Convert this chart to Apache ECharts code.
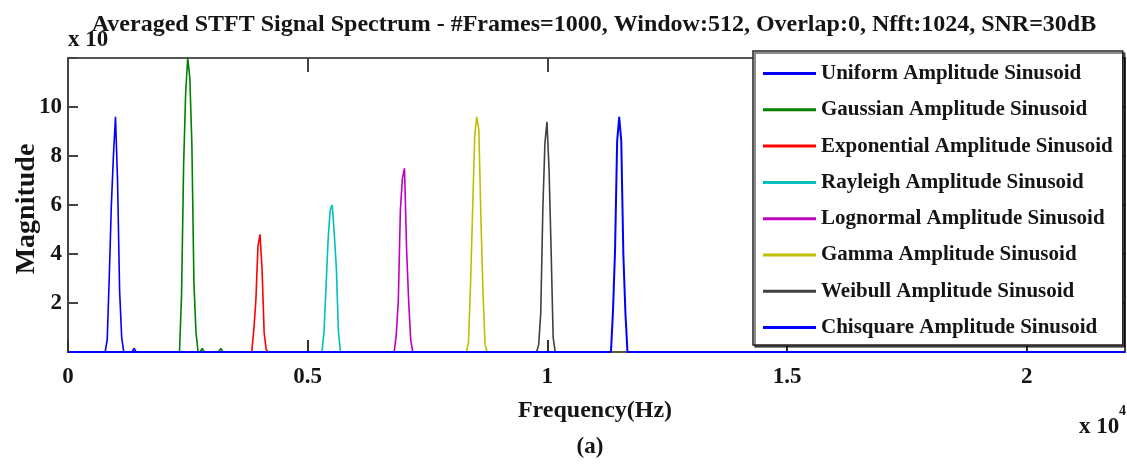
<!DOCTYPE html>
<html>
<head>
<meta charset="utf-8">
<script src="https://cdn.jsdelivr.net/npm/echarts@6/dist/echarts.min.js"></script>
<style>
html,body{margin:0;padding:0;background:#fff;}
#chart{width:1127px;height:464px;}
</style>
</head>
<body>
<div id="chart"></div>
<script>
// ---- data ----
const fs = 44100, nfft = 1024;           // FFT grid: bin k -> k*fs/nfft Hz
const seriesNames = ['Uniform Amplitude Sinusoid','Gaussian Amplitude Sinusoid','Exponential Amplitude Sinusoid','Rayleigh Amplitude Sinusoid','Lognormal Amplitude Sinusoid','Gamma Amplitude Sinusoid','Weibull Amplitude Sinusoid','Chisquare Amplitude Sinusoid'];
const seriesColors = ['#0000ff','#008000','#ff0000','#00bfbf','#bf00bf','#bfbf00','#404040','#0000ff'];
// first bin index of each peak and the magnitudes of the following bins
const uniformStart = 19;     const uniformVals = [0.5, 3.1, 6.0, 8.0, 9.6, 7.0, 2.5, 0.6];
const gaussianStart = 55;    const gaussianVals = [2.3, 7.6, 10.6, 12.0, 11.2, 8.5, 2.8, 0.8];
const exponentialStart = 90; const exponentialVals = [0.9, 2.1, 4.3, 4.8, 3.4, 0.8, 0.1];
const rayleighStart = 124;   const rayleighVals = [0.8, 2.7, 4.6, 5.8, 6.0, 4.8, 3.4, 0.8];
const lognormalStart = 159;  const lognormalVals = [0.7, 2.1, 5.8, 7.1, 7.5, 4.2, 2.1, 0.5];
const gammaStart = 194;      const gammaVals = [0.4, 2.8, 5.8, 8.8, 9.6, 9.1, 5.5, 2.5, 0.3];
const weibullStart = 228;    const weibullVals = [0.3, 1.6, 5.8, 8.5, 9.4, 7.5, 4.2, 0.6];
const chisquareStart = 264;  const chisquareVals = [1.7, 4.2, 8.6, 9.6, 8.6, 4.0, 1.6];
// small spurious bins on the floor: [bin, magnitude]
const uniformBlips = [[32, 0.15]];
const gaussianBlips = [[65, 0.15], [74, 0.15]];
const xTickLabels = ['0','0.5','1','1.5','2'];
const yTickLabels = ['2','4','6','8','10'];

const starts = [uniformStart,gaussianStart,exponentialStart,rayleighStart,lognormalStart,gammaStart,weibullStart,chisquareStart];
const vals = [uniformVals,gaussianVals,exponentialVals,rayleighVals,lognormalVals,gammaVals,weibullVals,chisquareVals];
const blips = [uniformBlips,gaussianBlips,[],[],[],[],[],[]];
const binHz = fs / nfft;
const fMax = fs / 2;

function buildData(start, v, bl) {
  const all = [];
  bl.forEach(b => all.push([b[0], b[1]]));
  v.forEach((m, i) => all.push([start + i, m]));
  all.sort((a,b)=>a[0]-b[0]);
  const pts = [[0, 0]];
  let prev = null;
  all.forEach(([k, m]) => {
    if (prev === null) {
      pts.push([(k - 1) * binHz, 0]);
    } else if (k - 1 > prev) {
      pts.push([(prev + 1) * binHz, 0]);
      if (k - 1 > prev + 1) pts.push([(k - 1) * binHz, 0]);
    }
    pts.push([k * binHz, m]);
    prev = k;
  });
  pts.push([(prev + 1) * binHz, 0]);
  pts.push([fMax, 0]);
  return pts;
}

const series = seriesNames.map((n, i) => ({
  name: n, type: 'line', symbol: 'none', clip: false, animation: false,
  data: buildData(starts[i], vals[i], blips[i]),
  lineStyle: { color: seriesColors[i], width: i === seriesNames.length - 1 ? 2 : 1.6 },
  itemStyle: { color: seriesColors[i] },
  z: 3
}));

const FONT = '"Liberation Serif", "Times New Roman", serif';
const TXT = '#151515';
const chart = echarts.init(document.getElementById('chart'), null, {renderer:'canvas'});
chart.setOption({
  backgroundColor: '#fff',
  animation: false,
  grid: { left: 68, right: 2, top: 58, bottom: 112 },
  xAxis: [{
    type: 'value', min: 0, max: fMax, interval: 5000,
    axisLine: { show: true, onZero: false, lineStyle: { color: '#333', width: 2 } },
    axisTick: { show: true, inside: true, length: 12, lineStyle: { color: '#333', width: 2 } },
    axisLabel: { showMaxLabel: false, margin: 14, fontFamily: FONT, fontWeight: 'bold', fontSize: 23, color: TXT,
      formatter: v => (v % 5000 === 0 ? xTickLabels[v / 5000] : '') },
    splitLine: { show: false }
  },{
    type: 'value', position: 'top', min: 0, max: fMax, interval: 5000,
    axisLine: { show: true, onZero: false, lineStyle: { color: '#555', width: 2 } },
    axisTick: { show: true, inside: true, length: 14, lineStyle: { color: '#444', width: 2 } },
    axisLabel: { show: false }, splitLine: { show: false }
  }],
  yAxis: [{
    type: 'value', min: 0, max: 12, interval: 2,
    axisLine: { show: true, onZero: false, lineStyle: { color: '#444', width: 2 } },
    axisTick: { show: true, inside: true, length: 10, lineStyle: { color: '#444', width: 2 } },
    axisLabel: { margin: 6, fontFamily: FONT, fontWeight: 'bold', fontSize: 23, color: TXT,
      formatter: v => (v > 0 && v < 12 ? yTickLabels[v / 2 - 1] : '') },
    splitLine: { show: false }
  },{
    type: 'value', position: 'right', min: 0, max: 12, interval: 2,
    axisLine: { show: true, onZero: false, lineStyle: { color: '#444', width: 2 } },
    axisTick: { show: true, inside: true, length: 10, lineStyle: { color: '#444', width: 2 } },
    axisLabel: { show: false }, splitLine: { show: false }
  }],
  legend: {
    orient: 'vertical', left: 753, top: 51,
    padding: [12, 10, 7, 10], itemGap: 15.3, itemWidth: 53, itemHeight: 20,
    backgroundColor: '#fff', borderColor: '#222', borderWidth: 1.5,
    shadowColor: 'rgba(0,0,0,0.6)', shadowOffsetX: 2, shadowOffsetY: 2, shadowBlur: 0,
    icon: 'path://M0,0 L53,0 L53,3 L0,3 Z',
    textStyle: { fontFamily: FONT, fontWeight: 'bold', fontSize: 21, color: TXT },
    data: seriesNames.map((n, i) => ({ name: n, itemStyle: { color: seriesColors[i] } })),
    selectedMode: false, z: 10
  },
  graphic: [
    { type: 'text', x: 68, y: 40, z: 1, style: { text: 'x 10', font: 'bold 23px ' + FONT, fill: TXT, textAlign: 'left', textVerticalAlign: 'middle' } },
    { type: 'text', x: 594, y: 25, z: 2, style: { text: 'Averaged STFT Signal Spectrum - #Frames=1000, Window:512, Overlap:0, Nfft:1024, SNR=30dB', font: 'bold 24px ' + FONT, fill: TXT, textAlign: 'center', textVerticalAlign: 'middle' } },
    { type: 'text', x: 27, y: 209, rotation: Math.PI / 2, style: { text: 'Magnitude', font: 'bold 28px ' + FONT, fill: TXT, textAlign: 'center', textVerticalAlign: 'middle' } },
    { type: 'text', x: 595, y: 411, style: { text: 'Frequency(Hz)', font: 'bold 24px ' + FONT, fill: TXT, textAlign: 'center', textVerticalAlign: 'middle' } },
    { type: 'text', x: 590, y: 447, style: { text: '(a)', font: 'bold 23px ' + FONT, fill: TXT, textAlign: 'center', textVerticalAlign: 'middle' } },
    { type: 'text', x: 1079, y: 427, style: { text: 'x 10', font: 'bold 23px ' + FONT, fill: TXT, textAlign: 'left', textVerticalAlign: 'middle' } },
    { type: 'text', x: 1119, y: 411, style: { text: '4', font: 'bold 14px ' + FONT, fill: TXT, textAlign: 'left', textVerticalAlign: 'middle' } }
  ],
  series: series
});
</script>
</body>
</html>
